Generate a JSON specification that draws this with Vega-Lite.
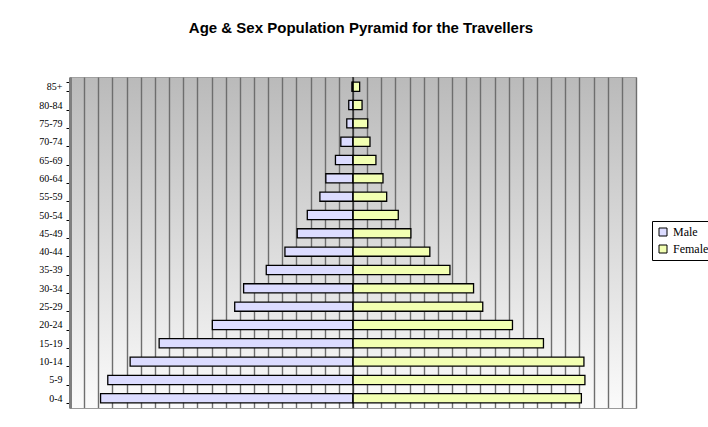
{
  "$schema": "https://vega.github.io/schema/vega-lite/v6.json",
  "width": 566,
  "height": 331,
  "autosize": "none",
  "padding": {"left": 70, "top": 77, "right": 72, "bottom": 19},
  "background": "white",
  "title": {
    "text": "Age & Sex Population Pyramid for the Travellers",
    "font": "Liberation Sans",
    "fontSize": 15,
    "fontWeight": "bold",
    "color": "black",
    "anchor": "middle",
    "offset": 36,
    "dx": 8
  },
  "config": {
    "view": {
      "stroke": "#a0a0a0",
      "strokeWidth": 1,
      "fill": {
        "gradient": "linear",
        "x1": 0, "y1": 0, "x2": 0, "y2": 1,
        "stops": [
          {"offset": 0, "color": "#bababa"},
          {"offset": 1, "color": "#fbfbfb"}
        ]
      }
    }
  },
  "datasets": {
    "pyramid": [
      {"age": "0-4", "sex": "Male", "pop": 1784},
      {"age": "5-9", "sex": "Male", "pop": 1733},
      {"age": "10-14", "sex": "Male", "pop": 1575},
      {"age": "15-19", "sex": "Male", "pop": 1370},
      {"age": "20-24", "sex": "Male", "pop": 994},
      {"age": "25-29", "sex": "Male", "pop": 836},
      {"age": "30-34", "sex": "Male", "pop": 773},
      {"age": "35-39", "sex": "Male", "pop": 613},
      {"age": "40-44", "sex": "Male", "pop": 481},
      {"age": "45-49", "sex": "Male", "pop": 394},
      {"age": "50-54", "sex": "Male", "pop": 323},
      {"age": "55-59", "sex": "Male", "pop": 234},
      {"age": "60-64", "sex": "Male", "pop": 192},
      {"age": "65-69", "sex": "Male", "pop": 124},
      {"age": "70-74", "sex": "Male", "pop": 86},
      {"age": "75-79", "sex": "Male", "pop": 44},
      {"age": "80-84", "sex": "Male", "pop": 30},
      {"age": "85+", "sex": "Male", "pop": 8},
      {"age": "0-4", "sex": "Female", "pop": 1614},
      {"age": "5-9", "sex": "Female", "pop": 1639},
      {"age": "10-14", "sex": "Female", "pop": 1632},
      {"age": "15-19", "sex": "Female", "pop": 1346},
      {"age": "20-24", "sex": "Female", "pop": 1127},
      {"age": "25-29", "sex": "Female", "pop": 917},
      {"age": "30-34", "sex": "Female", "pop": 852},
      {"age": "35-39", "sex": "Female", "pop": 685},
      {"age": "40-44", "sex": "Female", "pop": 543},
      {"age": "45-49", "sex": "Female", "pop": 409},
      {"age": "50-54", "sex": "Female", "pop": 320},
      {"age": "55-59", "sex": "Female", "pop": 238},
      {"age": "60-64", "sex": "Female", "pop": 212},
      {"age": "65-69", "sex": "Female", "pop": 162},
      {"age": "70-74", "sex": "Female", "pop": 120},
      {"age": "75-79", "sex": "Female", "pop": 104},
      {"age": "80-84", "sex": "Female", "pop": 64},
      {"age": "85+", "sex": "Female", "pop": 47}
    ],
    "axisline": [{"part": "centre axis"}]
  },
  "layer": [
    {
      "data": {"name": "pyramid"},
      "transform": [
        {"calculate": "datum.sex === 'Male' ? -datum.pop : datum.pop", "as": "signed"}
      ],
      "mark": {"type": "bar", "stroke": "black", "strokeWidth": 1.3},
      "encoding": {
        "y": {
          "field": "age",
          "type": "nominal",
          "sort": ["85+", "80-84", "75-79", "70-74", "65-69", "60-64", "55-59", "50-54", "45-49", "40-44", "35-39", "30-34", "25-29", "20-24", "15-19", "10-14", "5-9", "0-4"],
          "scale": {"paddingInner": 0.5, "paddingOuter": 0.28},
          "axis": {
            "title": null,
            "labelFont": "Liberation Serif",
            "labelFontSize": 10,
            "labelColor": "black",
            "labelPadding": 4,
            "tickBand": "extent",
            "tickColor": "black",
            "tickSize": 4,
            "domainColor": "#7f7f7f",
            "domainWidth": 3
          }
        },
        "x": {
          "field": "signed",
          "type": "quantitative",
          "stack": null,
          "scale": {"domain": [-2000, 2000], "nice": false},
          "axis": {
            "title": null,
            "labels": false,
            "ticks": false,
            "tickCount": 40,
            "grid": true,
            "gridColor": "#6e6e6e",
            "gridWidth": 1.4,
            "domainColor": "#9a9a9a"
          }
        },
        "color": {
          "field": "sex",
          "type": "nominal",
          "scale": {"domain": ["Male", "Female"], "range": ["#dcdcff", "#f2ffb2"]},
          "legend": {
            "title": null,
            "orient": "none",
            "legendX": 582,
            "legendY": 144,
            "strokeColor": "black",
            "fillColor": "white",
            "padding": 5,
            "rowPadding": 5,
            "labelFont": "Liberation Serif",
            "labelFontSize": 12,
            "labelColor": "black",
            "symbolType": "square",
            "symbolSize": 64,
            "symbolStrokeColor": "black",
            "symbolStrokeWidth": 1,
            "symbolOpacity": 1
          }
        }
      }
    },
    {
      "data": {"name": "axisline"},
      "mark": {"type": "rule", "color": "black", "strokeWidth": 1},
      "encoding": {
        "x": {"datum": 0, "type": "quantitative"}
      }
    }
  ]
}
